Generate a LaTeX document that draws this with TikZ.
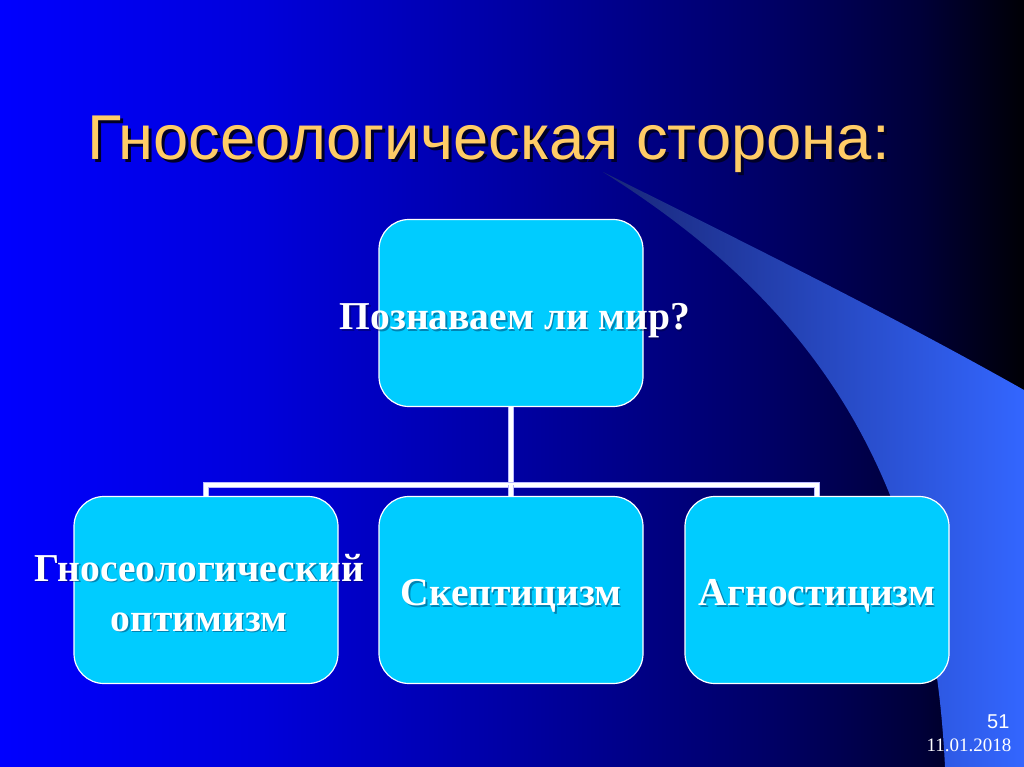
\documentclass[tikz,border=0pt]{standalone}
\usepackage{fontspec}
\setmainfont{Liberation Serif}
\setsansfont{Liberation Sans}
\usetikzlibrary{positioning}

\definecolor{boxcyan}{RGB}{0,204,255}
\definecolor{titleyellow}{RGB}{255,204,102}
\definecolor{swooshblue}{RGB}{51,102,255}
\definecolor{swooshdark}{RGB}{25,38,120}
\definecolor{linkedge}{RGB}{185,185,255}
\definecolor{shadowblue}{RGB}{0,0,40}

\pgfdeclarehorizontalshading{slidebg}{100bp}{rgb(0bp)=(0,0,1); rgb(25bp)=(0,0,1); rgb(37.5bp)=(0,0,0.86); rgb(50bp)=(0,0,0.64); rgb(62.5bp)=(0,0,0.40); rgb(70bp)=(0,0,0.22); rgb(75bp)=(0,0,0.02); rgb(100bp)=(0,0,0.02)}

\begin{document}
\begin{tikzpicture}[
        x=1pt, y=-1pt,
        box/.style={rectangle, rounded corners=30pt, fill=boxcyan, draw=white, line width=1.2pt, minimum width=264pt, minimum height=187pt},
        boxtext/.style={text=white, font=\fontsize{39.5}{50}\selectfont\bfseries, align=center},
        boxshadow/.style={text=shadowblue, opacity=0.35, font=\fontsize{39.5}{50}\selectfont\bfseries, align=center},
        link/.style={draw=linkedge, double=white, double distance=4.5pt, line width=0.6pt},
        ]
        \useasboundingbox (0,0) rectangle (1024,767);
        \shade[shading=slidebg] (0,0) rectangle (1024,767);
        % swoosh on the right
        \shade[left color=swooshdark, right color=swooshblue]
            (603,172) .. controls (760,250) and (900,320) .. (1024,390)
            -- (1024,767) -- (945,767)
            .. controls (930,450) and (790,290) .. (603,172) -- cycle;

        % title
        \node (title shadow) at (87,163) [anchor=base west, text=shadowblue, font=\fontsize{63.3}{70}\selectfont\sffamily] {Гносеологическая сторона:};
        \node (title) at (84,160) [anchor=base west, text=titleyellow, font=\fontsize{63.3}{70}\selectfont\sffamily] {Гносеологическая сторона:};

        % boxes
        \node (question) at (511,313) [box] {};
        \node (optimism) at (206,590) [box] {};
        \node (skepticism) at (511,590) [box] {};
        \node (agnosticism) at (817,590) [box] {};

        % connectors
        \coordinate (bus) at (511,485);
        \draw[link] (question) -- (bus);
        \draw[link] (bus) -| (optimism);
        \draw[link] (bus) -| (agnosticism);
        \draw[link] (bus) -- (skepticism);

        % box texts
        \node at (516.5,322.5) [boxshadow] {Познаваем ли мир?};
        \node (question text) at (515,321) [boxtext] {Познаваем ли мир?};
        \node at (200.5,594.5) [boxshadow] {Гносеологический\\оптимизм};
        \node (optimism text) at (199,593) [boxtext] {Гносеологический\\оптимизм};
        \node at (512.5,597.5) [boxshadow] {Скептицизм};
        \node (skepticism text) at (511,596) [boxtext] {Скептицизм};
        \node at (818.5,597.5) [boxshadow] {Агностицизм};
        \node (agnosticism text) at (817,596) [boxtext] {Агностицизм};

        % page number and date
        \node (page) at (1013,722) [anchor=east, text=white, font=\fontsize{20}{22}\selectfont\sffamily] {51};
        \node (date) at (1015,745) [anchor=east, text=white, font=\fontsize{19}{22}\selectfont] {11.01.2018};
    \end{tikzpicture}
\end{document}
